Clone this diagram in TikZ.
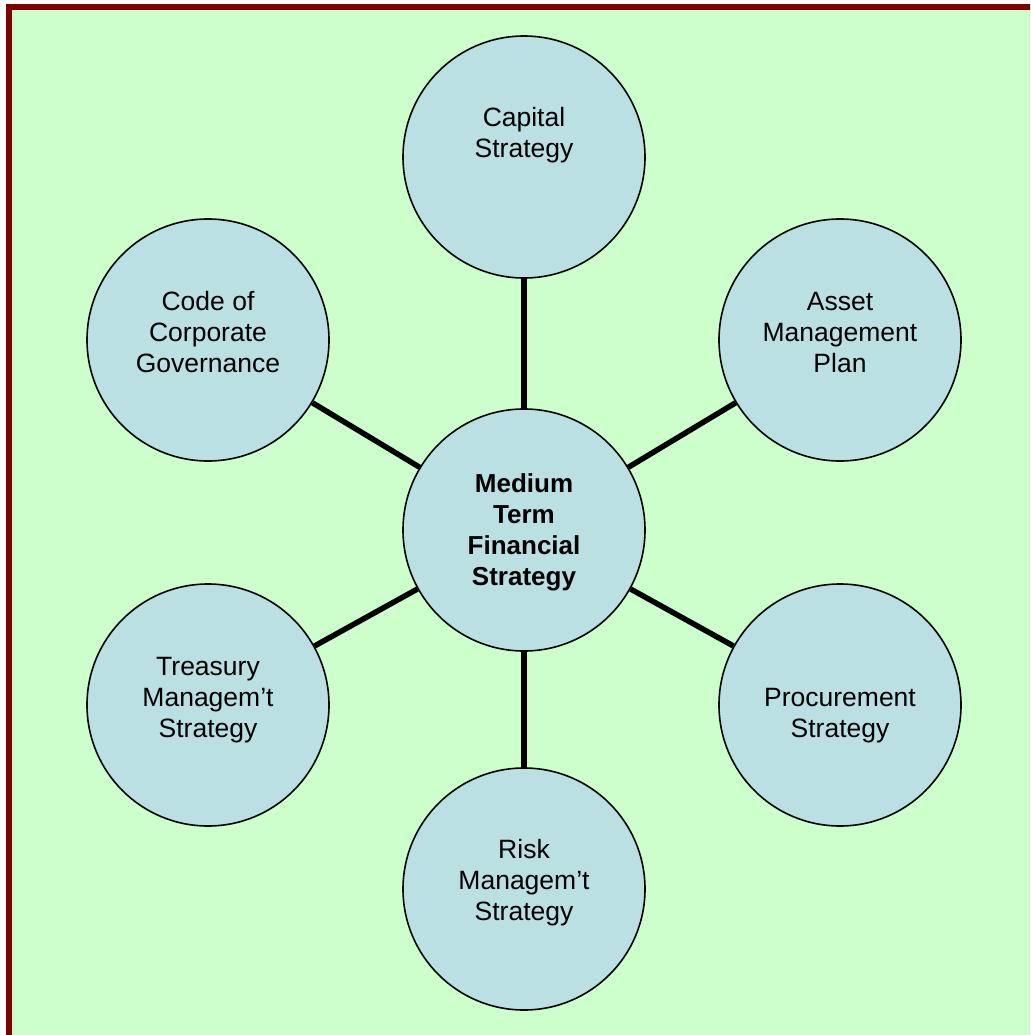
\documentclass[tikz,border=0pt]{standalone}
\usepackage{fontspec}
\setmainfont{Liberation Sans}
\usetikzlibrary{positioning}
\definecolor{frameclr}{RGB}{128,0,0}
\definecolor{pagebg}{RGB}{204,255,204}
\definecolor{discfill}{RGB}{187,224,227}
\tikzset{
  disc/.style={circle,draw=black,line width=1.6pt,fill=discfill,
    minimum size=242pt,inner sep=0pt},
  disctxt/.style={anchor=base,align=center,inner sep=0pt,
    font=\fontsize{26.5}{31}\selectfont},
  hubtxt/.style={disctxt,font=\fontsize{26}{31}\selectfont\bfseries},
  spoke/.style={line width=5.5pt,draw=black},
}

\begin{document}
\begin{tikzpicture}[x=1pt,y=-1pt]
  \useasboundingbox (0,0) rectangle (1030,1035);
  \fill[white] (0,0) rectangle (1030,1035);
  % frame runs off the right and bottom edges
  \begin{scope}
    \clip (0,0) rectangle (1030,1035);
    \filldraw[fill=pagebg,draw=frameclr,line width=6pt]
      (8.5,7.5) rectangle (1045,1050);
  \end{scope}

  \node[disc] (hub)   at (524,530) {};
  \node[disc] (cap)   at (524,157) {};
  \node[disc] (asset) at (840,340) {};
  \node[disc] (proc)  at (840,705) {};
  \node[disc] (risk)  at (524,889) {};
  \node[disc] (treas) at (208,705) {};
  \node[disc] (gov)   at (208,340) {};

  \foreach \b in {cap,asset,proc,risk,treas,gov}{
    \draw[spoke] (hub)--(\b);
  }

  % labels, placed on their last baseline
  \node[hubtxt]  (hublbl)   at (524,585) {Medium\\Term\\Financial\\Strategy};
  \node[disctxt] (caplbl)   at (524,158) {Capital\\Strategy};
  \node[disctxt] (assetlbl) at (840,372) {Asset\\Management\\Plan};
  \node[disctxt] (proclbl)  at (840,737) {Procurement\\Strategy};
  \node[disctxt] (risklbl)  at (524,920) {Risk\\Managem’t\\Strategy};
  \node[disctxt] (treaslbl) at (208,737) {Treasury\\Managem’t\\Strategy};
  \node[disctxt] (govlbl)   at (208,372) {Code of\\Corporate\\Governance};

\end{tikzpicture}
\end{document}
